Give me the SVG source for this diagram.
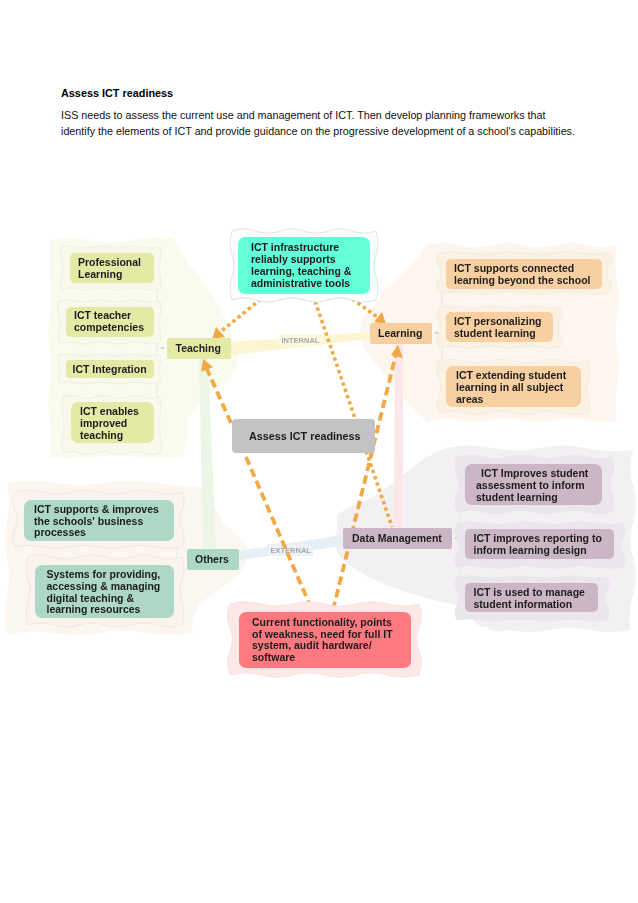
<svg xmlns="http://www.w3.org/2000/svg" width="638" height="903" viewBox="0 0 638 903">
<style>
text{font-family:"Liberation Sans",Arial,sans-serif;fill:#000}
.h{font-size:10.85px;font-weight:bold}
.p{font-size:10.75px;fill:#111}
.n text{font-size:10.5px;font-weight:bold;fill:#1c1c1c}
.l{font-size:7.5px;font-weight:bold;fill:#a8a8a8}
.w{vector-effect:non-scaling-stroke;stroke-width:1}
.ft{fill:#f8f9ea;stroke:#eeefe4}
.fl{fill:#fdf1e4;stroke:#f2ece3}
.fd{fill:#ebe6eb;stroke:#ebe6eb}
.fo{fill:#fbf4ee;stroke:#efe9e2}
.tr{fill:none;stroke:#e6e6e6;stroke-width:1}
.tick{stroke:#a9a9b0;stroke-width:1}
.da{fill:none;stroke:#f0a945;stroke-width:3.8;stroke-dasharray:8.500 4.500}
.do{fill:none;stroke:#f0a945;stroke-width:3.6;stroke-dasharray:3.4 3.200}
.hd{fill:#f0a945}
</style>
<defs>
<path id="wave" class="w" d="M0 0q8.33-3 16.67 0t16.67 0t16.67 0t16.67 0t16.67 0t16.65 0q2.5 8.33 0 16.67t0 16.67t0 16.66q-8.33 3-16.67 0t-16.67 0t-16.67 0t-16.67 0t-16.67 0t-16.65 0q-2.5-8.33 0-16.67t0-16.67t0-16.66z"/>
<filter id="soft" x="0" y="0" width="100%" height="100%"><feGaussianBlur stdDeviation="0.35"/></filter>
</defs>
<rect width="638" height="903" fill="#fff"/>
<text class="h" x="61" y="97">Assess ICT readiness</text>
<text class="p" x="61" y="119">ISS needs to assess the current use and management of ICT. Then develop planning frameworks that</text>
<text class="p" x="61" y="135">identify the elements of ICT and provide guidance on the progressive development of a school's capabilities.</text>
<g filter="url(#soft)">
<g id="backdrops">
<path fill="#fafbef" d="M50 240q20-4 40 0t40 0t43-2Q180 250 187 263Q205 280 217 303Q232 330 238 360Q238 372 227 380Q205 395 187 420Q190 440 182 457q-22 3-44 0t-44 0t-44 1q3-18 0-36t0-36t0-36t0-36t0-36z"/>
<path fill="#fdf6ee" d="M427 245q16-4 32 0t32 0t32 0t32 0t32 0t30 0q-3 17 0 35t0 35t0 35t0 35t0 35q-16 4-32 0t-32 0t-32 0t-32 0t-32 0t-30 2Q415 410 403 397Q380 370 362 345Q358 332 362 320Q375 305 387 287Q410 270 427 245z"/>
<path fill="#f3f0f3" d="M447 448q23-5 46 0t46 0t46 0t48 2q-5 18 0 36t0 36t0 36t0 36t-3 36q-20 4-40 0t-40 0t-40 0q-18 4-23-3q-12 2-20-20Q375 590 340 557Q332 545 337 530V515Q350 505 367 500Q385 490 403 475Q425 455 447 448z"/>
<path fill="#fcf6f1" d="M7 483q24-4 49 0t49 0t49 0t49 4Q215 505 223 523Q240 535 248 548Q248 562 240 573Q220 590 200 603Q190 620 193 633q-23 4-46 0t-46 0t-47 0t-47 2q-4-19 0-38t0-38t0-38t0-38z"/>
</g>
<g id="connectors">
<path fill="#fcf5d0" d="M231 342L370 332V339L231 355z"/>
<path fill="#edf6e6" d="M199 359H208L216 549H203z"/>
<path fill="#fbe6e9" d="M395 344H403V528H394z"/>
<path fill="#e6eef6" d="M239 551L343 535V546L239 560z"/>
<path class="tr" d="M157 250V445M442 255V410M460 460V615M177 520V590"/>
<path class="tick" d="M161 348h3M435 333h3M455 538h3M181 559h2"/>
<rect x="279" y="334" width="44" height="12" fill="#fdf8e0"/>
<rect x="267" y="544" width="46" height="12" fill="#ebf1f6"/>
<text class="l" x="281.500" y="343">INTERNAL</text>
<text class="l" x="270.500" y="553">EXTERNAL</text>
<path class="do" d="M313 295L392 527"/>
<path class="do" d="M266 295L219 333"/>
<path class="hd" d="M212 339L216 327L225 337z"/>
<path class="do" d="M347 295L380 319"/>
<path class="hd" d="M386 324L374 322L382 312z"/>
<path class="da" d="M231 423L206 367"/>
<path class="hd" d="M203 359L213 367L201 372z"/>
<path class="da" d="M246 457L312 610"/>
<path class="da" d="M333 610L396 354"/>
<path class="hd" d="M398 345L403 358L391 355z"/>
</g>
<g id="frames">
<use href="#wave" class="ft" transform="translate(62 247) scale(.98 .84)"/>
<use href="#wave" class="ft" transform="translate(59 301) scale(1.01 .84)"/>
<use href="#wave" class="ft" transform="translate(59 355) scale(1.01 .56)"/>
<use href="#wave" class="ft" transform="translate(63 397) scale(.97 1.12)"/>
<use href="#wave" class="fl" transform="translate(439 253) scale(1.7 .8)"/>
<use href="#wave" class="fl" transform="translate(439 307) scale(1.21 .8)"/>
<use href="#wave" class="fl" transform="translate(439 361) scale(1.49 1.04)"/>
<use href="#wave" class="fd" transform="translate(457 457) scale(1.55 1.1)"/>
<use href="#wave" class="fd" transform="translate(457 523) scale(1.66 .88)"/>
<use href="#wave" class="fd" transform="translate(457 577) scale(1.5 .86)"/>
<use href="#wave" class="fo" transform="translate(15 492) scale(1.67 1.1)"/>
<use href="#wave" class="fo" transform="translate(28 557) scale(1.54 1.36)"/>
</g>
<g id="n-infra" class="n">
<use href="#wave" fill="#fbfefd" stroke="#dbe6e2" transform="translate(232 231) scale(1.44 1.38)"/>
<rect x="238" y="237" width="132" height="57" rx="7" fill="#62ffd8"/>
<text x="251" y="251">ICT infrastructure</text><text x="251" y="263">reliably supports</text><text x="251" y="275">learning, teaching &amp;</text><text x="251" y="287">administrative tools</text>
</g>
<g id="n-red" class="n">
<use href="#wave" fill="#fde8e8" stroke="#fbe0e0" transform="translate(230 604) scale(1.89 1.42)"/>
<rect x="239" y="612" width="172" height="56" rx="7" fill="#ff7a80"/>
<text x="252" y="626">Current functionality, points</text><text x="252" y="638">of weakness, need for full IT</text><text x="252" y="649">system, audit hardware/</text><text x="252" y="661">software</text>
</g>
<g id="n-assess" class="n">
<rect x="232" y="419" width="143" height="34" rx="4" fill="#c3c3c5"/>
<text x="249" y="440" style="font-size:10.8px">Assess ICT readiness</text>
</g>
<g id="n-teaching" class="n"><rect x="167" y="338" width="64" height="21" rx="2" fill="#e2eaa5"/><text x="175.500" y="352">Teaching</text></g>
<g id="n-learning" class="n"><rect x="370" y="323" width="62" height="21" rx="2" fill="#f8cfa0"/><text x="378" y="337">Learning</text></g>
<g id="n-others" class="n"><rect x="187" y="549" width="52" height="21" rx="2" fill="#aed8c6"/><text x="195" y="563">Others</text></g>
<g id="n-data" class="n"><rect x="343" y="528" width="109" height="21" rx="2" fill="#cbb6c5"/><text x="352" y="542">Data Management</text></g>
<g id="n-prof" class="n"><rect x="70" y="253" width="84" height="30" rx="5" fill="#e2eaa5"/><text x="78" y="266">Professional</text><text x="78" y="278">Learning</text></g>
<g id="n-comp" class="n"><rect x="66" y="307" width="88" height="30" rx="5" fill="#e2eaa5"/><text x="74" y="319">ICT teacher</text><text x="74" y="331">competencies</text></g>
<g id="n-integ" class="n"><rect x="66" y="360" width="88" height="18" rx="4" fill="#e2eaa5"/><text x="72.500" y="373">ICT Integration</text></g>
<g id="n-enab" class="n"><rect x="71" y="402" width="83" height="41" rx="7" fill="#e2eaa5"/><text x="80" y="415">ICT enables</text><text x="80" y="427">improved</text><text x="80" y="439">teaching</text></g>
<g id="n-conn" class="n"><rect x="446" y="259" width="156" height="30" rx="5" fill="#f8cfa0"/><text x="454" y="272">ICT supports connected</text><text x="454" y="284">learning beyond the school</text></g>
<g id="n-pers" class="n"><rect x="446" y="312" width="107" height="30" rx="5" fill="#f8cfa0"/><text x="454" y="325">ICT personalizing</text><text x="454" y="337">student learning</text></g>
<g id="n-ext" class="n"><rect x="446" y="366" width="135" height="41" rx="7" fill="#f8cfa0"/><text x="456" y="379">ICT extending student</text><text x="456" y="391">learning in all subject</text><text x="456" y="403">areas</text></g>
<g id="n-bus" class="n"><rect x="24" y="500" width="150" height="41" rx="7" fill="#aed8c6"/><text x="34" y="513">ICT supports &amp; improves</text><text x="34" y="525">the schools' business</text><text x="34" y="536">processes</text></g>
<g id="n-sys" class="n"><rect x="35" y="565" width="139" height="53" rx="7" fill="#aed8c6"/><text x="46.500" y="578">Systems for providing,</text><text x="46.500" y="590">accessing &amp; managing</text><text x="46.500" y="602">digital teaching &amp;</text><text x="46.500" y="613">learning resources</text></g>
<g id="n-imp" class="n"><rect x="465" y="464" width="137" height="41" rx="7" fill="#cbb6c5"/><text x="481" y="477">ICT Improves student</text><text x="476" y="489">assessment to inform</text><text x="476" y="501">student learning</text></g>
<g id="n-rep" class="n"><rect x="465" y="529" width="149" height="30" rx="5" fill="#cbb6c5"/><text x="473.500" y="542">ICT improves reporting to</text><text x="473.500" y="554">inform learning design</text></g>
<g id="n-man" class="n"><rect x="465" y="583" width="133" height="29" rx="5" fill="#cbb6c5"/><text x="473.500" y="596">ICT is used to manage</text><text x="473.500" y="608">student information</text></g>
</g>
</svg>
